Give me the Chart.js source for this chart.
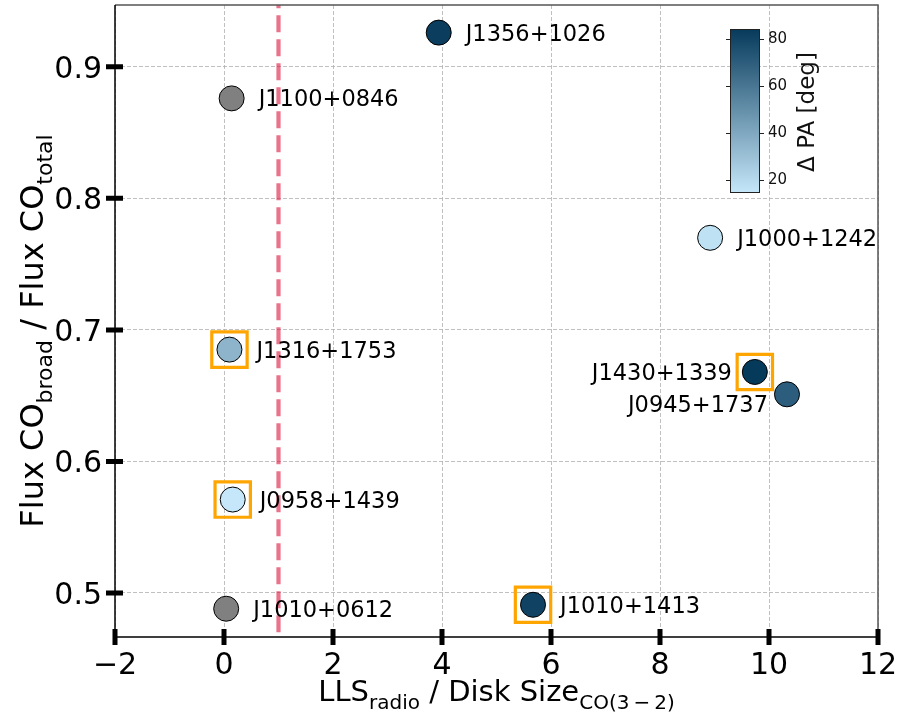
<!DOCTYPE html>
<html>
<head>
<meta charset="utf-8">
<script src="https://cdn.jsdelivr.net/npm/chart.js@4.4.1/dist/chart.umd.min.js"></script>
<style>
  html, body { margin: 0; padding: 0; background: #fff; }
  #wrap { width: 900px; height: 720px; }
</style>
</head>
<body>
<div id="wrap"><canvas id="c" width="900" height="720"></canvas></div>
<script>
// Source sample: radio extent vs. CO disk size, and broad-component flux fraction
const sources   = ['J1356+1026', 'J1100+0846', 'J1000+1242', 'J1316+1753', 'J1430+1339',
                   'J0945+1737', 'J0958+1439', 'J1010+0612', 'J1010+1413'];
const llsRatio  = [3.94, 0.14, 8.92, 0.10, 9.74, 10.33, 0.16, 0.04, 5.67];
const fluxRatio = [0.926, 0.876, 0.770, 0.685, 0.668, 0.651, 0.571, 0.488, 0.491];
// Misalignment angle (deg); null = no measurement (drawn grey)
const deltaPA   = [83, null, 17, 35, 84.3, 70, 14.5, null, 81];
// Sources highlighted with a box
const boxed     = [false, false, false, true, true, false, true, false, true];

const xTicks    = [-2, 0, 2, 4, 6, 8, 10, 12];
const yTicks    = [0.5, 0.6, 0.7, 0.8, 0.9];
const cbarTicks = [20, 40, 60, 80];
const xRange    = [-2, 12];
const yRange    = [0.4665, 0.947];
const radioLimit = 1;   // LLS equal to disk size

// Label placement (pixels) for the few labels that sit left of their marker
const labelPlacement = {
  'J1430+1339': { dx: -23, dy: 0,  align: 'right' },
  'J0945+1737': { dx: -19, dy: 10, align: 'right' }
};

const FONT = '"DejaVu Sans", "Liberation Sans", sans-serif';
const validPA = deltaPA.filter(v => v !== null);
const paMin = Math.min(...validPA), paMax = Math.max(...validPA);
const cLow = [198, 231, 250], cHigh = [6, 58, 91];

function cmap(v) {
  if (v === null) return '#808080';
  const t = Math.max(0, Math.min(1, (v - paMin) / (paMax - paMin)));
  const c = cLow.map((l, k) => Math.round(l + (cHigh[k] - l) * t));
  return `rgb(${c[0]},${c[1]},${c[2]})`;
}

const points = sources.map((s, i) => ({ x: llsRatio[i], y: fluxRatio[i] }));
const boxedPoints = points.filter((p, i) => boxed[i]);

const fmtX = v => (v < 0 ? '\u2212' + Math.abs(v) : String(v));
const fmtY = v => v.toFixed(1);

// Draw text with subscripts; parts = [[text, isSub], ...]
function drawSubText(ctx, parts, size, subShift) {
  const subSize = Math.round(size * 0.7);
  let total = 0;
  const widths = parts.map(([t, sub]) => {
    ctx.font = `${sub ? subSize : size}px ${FONT}`;
    const w = ctx.measureText(t).width;
    total += w;
    return w;
  });
  let cx = -total / 2;
  parts.forEach(([t, sub], k) => {
    ctx.font = `${sub ? subSize : size}px ${FONT}`;
    ctx.fillText(t, cx, sub ? subShift : 0);
    cx += widths[k];
  });
}

const decor = {
  id: 'decor',
  afterDatasetsDraw(chart) {
    const { ctx, scales: { x, y } } = chart;
    ctx.save();
    ctx.font = `22.5px ${FONT}`;
    ctx.fillStyle = '#000';
    ctx.textBaseline = 'alphabetic';
    sources.forEach((s, i) => {
      const p = labelPlacement[s] || { dx: 27, dy: 0, align: 'left' };
      ctx.textAlign = p.align;
      ctx.fillText(s, x.getPixelForValue(llsRatio[i]) + p.dx,
                      y.getPixelForValue(fluxRatio[i]) + p.dy + 8);
    });
    ctx.restore();
  },
  afterDraw(chart) {
    const { ctx, chartArea: a, scales: { x, y } } = chart;
    ctx.save();
    // frame
    ctx.lineWidth = 1.5;
    ctx.strokeStyle = '#555';
    ctx.beginPath();
    ctx.moveTo(a.left, a.top); ctx.lineTo(a.right, a.top); ctx.lineTo(a.right, a.bottom);
    ctx.stroke();
    ctx.strokeStyle = '#000';
    ctx.beginPath();
    ctx.moveTo(a.left, a.top); ctx.lineTo(a.left, a.bottom); ctx.lineTo(a.right, a.bottom);
    ctx.stroke();
    // major ticks crossing the axes
    ctx.lineWidth = 5;
    ctx.beginPath();
    x.ticks.forEach(t => {
      const px = x.getPixelForValue(t.value);
      ctx.moveTo(px, a.bottom - 8); ctx.lineTo(px, a.bottom + 8);
    });
    y.ticks.forEach(t => {
      const py = y.getPixelForValue(t.value);
      ctx.moveTo(a.left - 9, py); ctx.lineTo(a.left + 8, py);
    });
    ctx.stroke();
    // tick labels
    ctx.fillStyle = '#000';
    ctx.font = `30px ${FONT}`;
    ctx.textBaseline = 'alphabetic';
    ctx.textAlign = 'center';
    x.ticks.forEach(t => ctx.fillText(fmtX(t.value), x.getPixelForValue(t.value), a.bottom + 37));
    ctx.textAlign = 'right';
    y.ticks.forEach(t => ctx.fillText(fmtY(t.value), a.left - 13, y.getPixelForValue(t.value) + 11));

    // colour bar
    const cb = { left: 730, right: 760, top: 29, bottom: 193 };
    const g = ctx.createLinearGradient(0, cb.bottom, 0, cb.top);
    g.addColorStop(0, cmap(paMin));
    g.addColorStop(1, cmap(paMax));
    ctx.fillStyle = g;
    ctx.fillRect(cb.left, cb.top, cb.right - cb.left, cb.bottom - cb.top);
    ctx.lineWidth = 1;
    ctx.strokeStyle = '#222';
    ctx.strokeRect(cb.left + 0.5, cb.top + 0.5, cb.right - cb.left - 1, cb.bottom - cb.top - 1);
    const cbY = v => cb.bottom - (v - paMin) / (paMax - paMin) * (cb.bottom - cb.top);
    ctx.beginPath();
    cbarTicks.forEach(v => {
      const py = Math.round(cbY(v)) + 0.5;
      ctx.moveTo(cb.left - 4, py); ctx.lineTo(cb.left, py);
      ctx.moveTo(cb.right, py); ctx.lineTo(cb.right + 4, py);
    });
    ctx.stroke();
    ctx.fillStyle = '#111';
    ctx.font = `15px ${FONT}`;
    ctx.textAlign = 'left';
    ctx.textBaseline = 'middle';
    cbarTicks.forEach(v => ctx.fillText(String(v), cb.right + 8, cbY(v)));
    ctx.save();
    ctx.translate(814, 112);
    ctx.rotate(-Math.PI / 2);
    ctx.font = `23px ${FONT}`;
    ctx.textAlign = 'center';
    ctx.textBaseline = 'alphabetic';
    ctx.fillText('\u0394 PA [deg]', 0, 0);
    ctx.restore();

    // axis titles with subscripts
    ctx.fillStyle = '#000';
    ctx.textAlign = 'left';
    ctx.textBaseline = 'alphabetic';
    ctx.save();
    ctx.translate((a.left + a.right) / 2, 701);
    drawSubText(ctx, [['LLS', false], ['radio', true], [' / Disk Size', false],
                      ['CO(3\u2009\u2212\u20092)', true]], 29, 8);
    ctx.restore();
    ctx.save();
    ctx.translate(43, 331);
    ctx.rotate(-Math.PI / 2);
    drawSubText(ctx, [['Flux CO', false], ['broad', true], [' / Flux CO', false],
                      ['total', true]], 32, 9);
    ctx.restore();
    ctx.restore();
  }
};

new Chart(document.getElementById('c'), {
  type: 'scatter',
  data: {
    datasets: [
      {
        label: 'sources',
        data: points,
        pointRadius: 12.5,
        pointHoverRadius: 12.5,
        pointBackgroundColor: deltaPA.map(cmap),
        pointBorderColor: '#000',
        pointBorderWidth: 1,
        order: 0
      },
      {
        label: 'boxed',
        data: boxedPoints,
        pointStyle: 'rect',
        pointRadius: 25,
        pointHoverRadius: 25,
        pointBackgroundColor: 'rgba(0,0,0,0)',
        pointBorderColor: '#ffa500',
        pointBorderWidth: 3.2,
        order: 1
      },
      {
        type: 'line',
        label: 'limit',
        data: [{ x: radioLimit, y: yRange[0] - 1 }, { x: radioLimit, y: yRange[1] + 1 }],
        borderColor: 'rgba(220,20,60,0.6)',
        borderWidth: 4.2,
        borderDash: [17, 7],
        pointRadius: 0,
        showLine: true,
        fill: false,
        order: 2
      }
    ]
  },
  options: {
    responsive: false,
    animation: false,
    devicePixelRatio: 1,
    layout: { autoPadding: false, padding: { top: 5, right: 22, left: 0, bottom: 0 } },
    plugins: { legend: { display: false }, tooltip: { enabled: false } },
    scales: {
      x: {
        type: 'linear',
        min: xRange[0], max: xRange[1],
        afterBuildTicks: s => { s.ticks = xTicks.map(v => ({ value: v })); },
        afterFit: s => { s.height = 83; },
        grid: { color: '#b0b0b0', lineWidth: 0.8, drawTicks: false },
        border: { display: false, dash: [4, 2] },
        ticks: { display: false }
      },
      y: {
        type: 'linear',
        min: yRange[0], max: yRange[1],
        afterBuildTicks: s => { s.ticks = yTicks.map(v => ({ value: v })); },
        afterFit: s => { s.width = 115; },
        grid: { color: '#b0b0b0', lineWidth: 0.8, drawTicks: false },
        border: { display: false, dash: [4, 2] },
        ticks: { display: false }
      }
    }
  },
  plugins: [decor]
});
</script>
</body>
</html>
